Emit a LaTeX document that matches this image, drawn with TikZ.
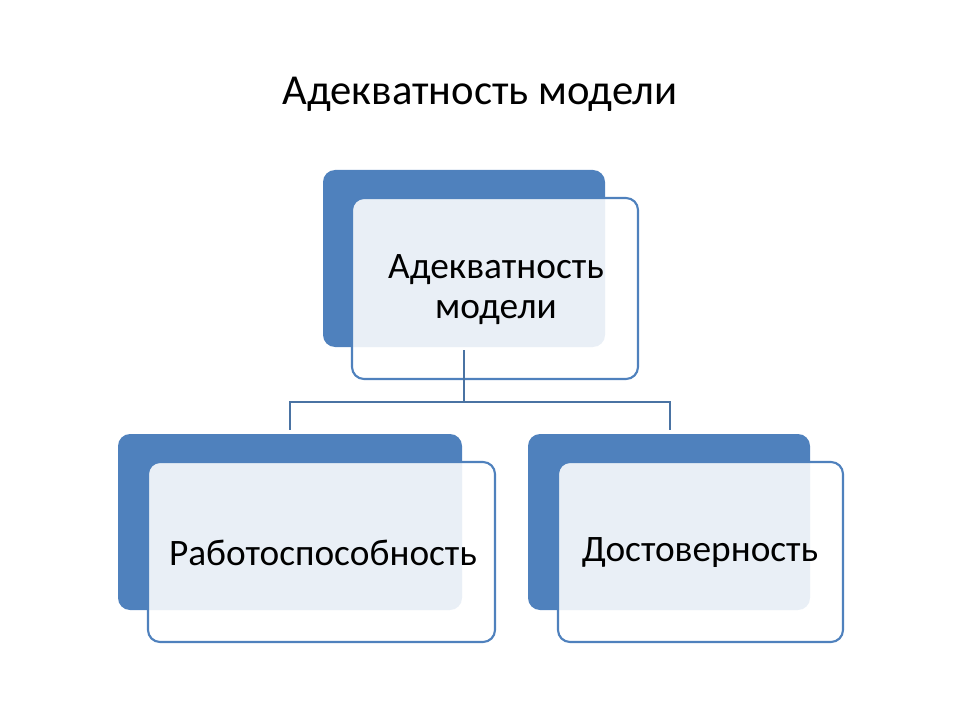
\documentclass[tikz,border=0pt]{standalone}
\usepackage{fontspec}
\setmainfont{Carlito}
\begin{document}
\begin{tikzpicture}[x=0.75pt,y=-0.75pt,
 back/.style={fill=backc, rounded corners=9pt},
 front/.style={draw=backc, line width=1.6pt, fill=white, fill opacity=0.88, rounded corners=9pt},
 lbl/.style={font=\fontsize{28}{30}\selectfont, align=center, text=black, text opacity=1},
 conn/.style={draw=connc, line width=1.5pt}]
\definecolor{backc}{HTML}{4F81BD}
\definecolor{connc}{HTML}{4A73A3}
\useasboundingbox (0,0) rectangle (960,720);
\node (title) at (480,94) {\fontsize{32}{36}\selectfont Адекватность модели};
% top
\path[back] (323,170) rectangle (605,347);
\path[front] (352,198) rectangle (638,379);
\node[lbl] (top) at (496,290) {Адекватность\\модели};
% left
\path[back] (118,434) rectangle (462,610);
\path[front] (148,462) rectangle (495,642);
\node[lbl] (left) at (323,553) {Работоспособность};
% right
\path[back] (528,434) rectangle (810,610);
\path[front] (558,462) rectangle (843,642);
\node[lbl] (right) at (700,553) {Достоверность};
% connectors
\coordinate (t) at (464,350);
\coordinate (m) at (464,402);
\coordinate (l) at (290,430);
\coordinate (r) at (670,430);
\draw[conn] (t) -- (m);
\draw[conn] (m) -| (l);
\draw[conn] (m) -| (r);
\end{tikzpicture}
\end{document}
